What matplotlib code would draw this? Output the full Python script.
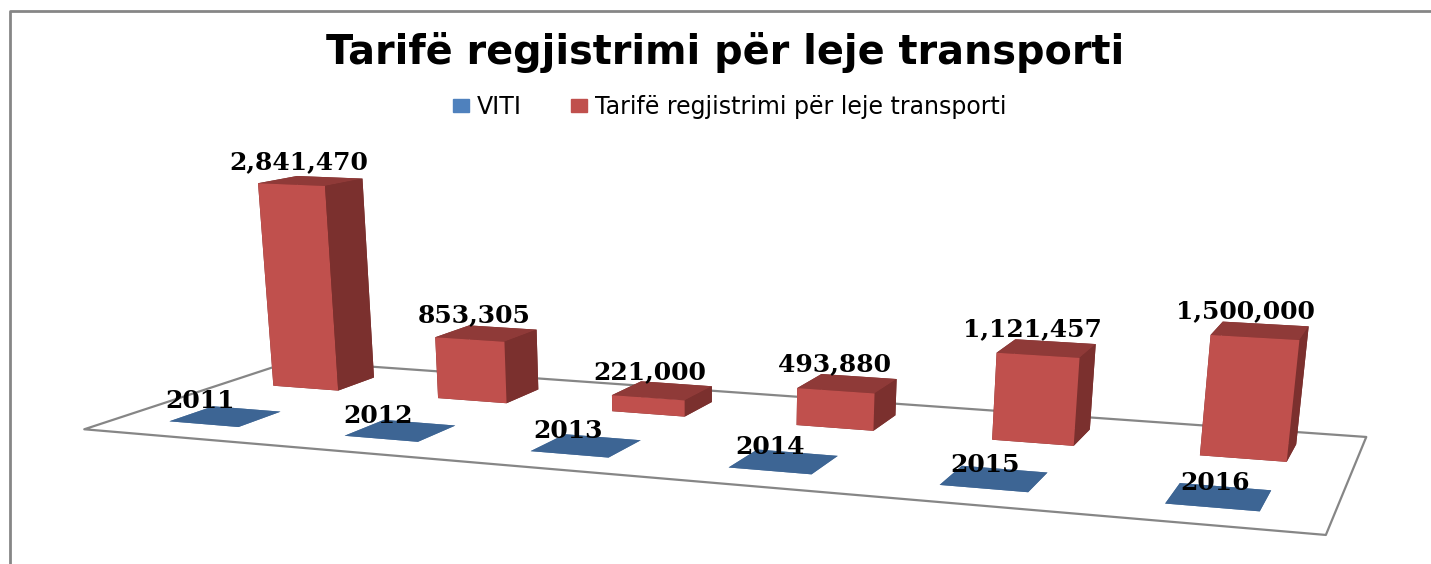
import numpy as np
import matplotlib
matplotlib.use('Agg')
import matplotlib.pyplot as plt
from matplotlib.lines import Line2D
from matplotlib.patches import Patch
from mpl_toolkits.mplot3d import proj3d
from mpl_toolkits.mplot3d.art3d import Poly3DCollection

# data
years = [2011, 2012, 2013, 2014, 2015, 2016]
viti = [2011, 2012, 2013, 2014, 2015, 2016]
tarife = [2841470, 853305, 221000, 493880, 1121457, 1500000]
viti_labels = ['2011', '2012', '2013', '2014', '2015', '2016']
tarife_labels = ['2,841,470', '853,305', '221,000', '493,880', '1,121,457', '1,500,000']
title = 'Tarifë regjistrimi për leje transporti'
series_names = ['VITI', 'Tarifë regjistrimi për leje transporti']

# the picture is a stretched screenshot, no normal view_init gets it,
# so this camera was fitted on the bar corners (world -> pixels, y down)
# third row is only depth for the face sorting
CAMERA = np.array([
    [1.676484602e+02, 1.274560918e+02, -9.357168550e-06, 8.378761891e+01],
    [1.773623256e+00, -4.854443090e+00, -8.059313202e-05, 4.287712890e+02],
    [-1.0, 1.0, -1e-7, 0.0],
    [-2.963667492e-02, 8.115907944e-02, -1.332264333e-08, 1.0],
])

BAR = 0.4       # bar width and depth, in category units
BAR_GAP = 0.3
WIDTH, HEIGHT = 1431, 564

fig = plt.figure(figsize=(WIDTH / 100, HEIGHT / 100), dpi=100)
ax = fig.add_axes([0, 0, 1, 1], projection='3d', computed_zorder=False)
ax.set_axis_off()
ax.set_xticks([])
ax.set_yticks([])
ax.set_zticks([])
ax.patch.set_visible(False)
ax.get_proj = lambda: CAMERA
ax.apply_aspect = lambda position=None: None
ax.viewLim.intervalx = (0, WIDTH)
ax.viewLim.intervaly = (HEIGHT, 0)

n = len(years)
floor = Poly3DCollection([[(0, 0, 0), (n, 0, 0), (n, 2, 0), (0, 2, 0)]],
                         facecolor='white', edgecolor='#868686', linewidth=1.6, zorder=1)
ax.add_collection3d(floor, autolim=False)

xpos = np.arange(n) + BAR_GAP
# face order in bar3d: bottom, top, front, back, left, right
red_faces = ['#7B302E', '#8F3A38', '#C0504D', '#7B302E', '#7B302E', '#7B302E'] * n
blue_faces = ['#3D6594'] * 6 * n
ax.bar3d(xpos, np.full(n, 1.3), np.zeros(n), BAR, BAR, tarife, color=red_faces, shade=False, zorder=2)
ax.bar3d(xpos, np.full(n, 0.3), np.zeros(n), BAR, BAR, viti, color=blue_faces, shade=False, zorder=2)

# labels sit just above each bar, projected by hand so they are plain 2D texts
lab = dict(family='DejaVu Serif', fontweight='bold', fontsize=18, color='black',
           ha='center', va='bottom', zorder=5)
for i in range(n):
    u, v, _ = proj3d.proj_transform(i + 0.43, 1.5, tarife[i] + 80000, CAMERA)
    ax.text2D(u, v, tarife_labels[i], **lab)
    u, v, _ = proj3d.proj_transform(i + 0.515, 0.25, viti[i] + 175000, CAMERA)
    ax.text2D(u, v, viti_labels[i], **lab)

fig.text(725 / WIDTH, 1 - 64 / HEIGHT, title, family='DejaVu Sans', fontweight='bold',
         fontsize=28.6, ha='center', va='baseline')
handles = [Patch(color='#4F81BD'), Patch(color='#C0504D')]
fig.legend(handles, series_names, loc='center', bbox_to_anchor=(729.5 / WIDTH, 1 - 107 / HEIGHT),
           ncol=2, frameon=False, prop=dict(family='DejaVu Sans', size=17),
           handlelength=0.68, handleheight=0.5, handletextpad=0.33, columnspacing=2.07)

# chart border, only left and top are in the crop
fig.add_artist(Line2D([9.5 / WIDTH, 9.5 / WIDTH, 1], [0, 1 - 11 / HEIGHT, 1 - 11 / HEIGHT],
                      color='#868686', lw=2))

fig.savefig('out.png', dpi=100)
